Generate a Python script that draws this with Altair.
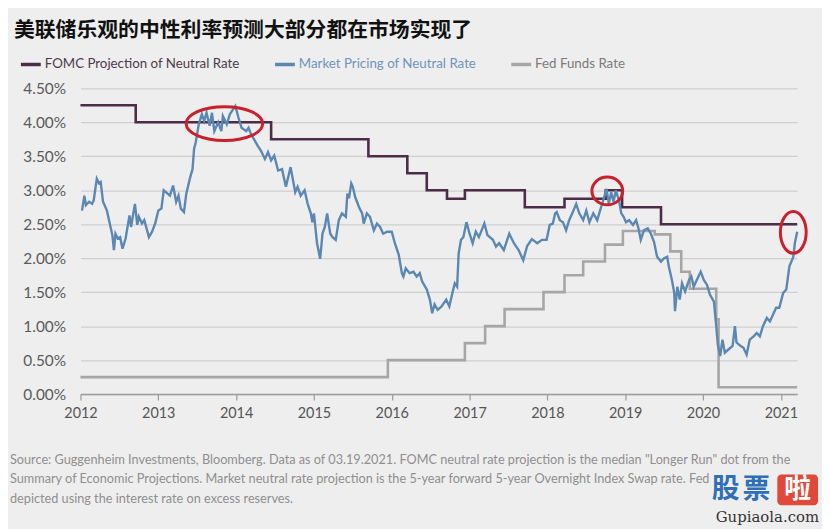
import altair as alt
import pandas as pd

TITLE = "美联储乐观的中性利率预测大部分都在市场实现了"
SERIES = ["FOMC Projection of Neutral Rate", "Market Pricing of Neutral Rate", "Fed Funds Rate"]
COLORS = ["#4d2c48", "#5b87b3", "#a6a6a6"]
LABEL_COLORS = ["#4d3a4c", "#6f94bb", "#7a7a7a"]
SOURCE = [
    "Source: Guggenheim Investments, Bloomberg. Data as of 03.19.2021. FOMC neutral rate projection is the median \"Longer Run\" dot from the",
    "Summary of Economic Projections. Market neutral rate projection is the 5-year forward 5-year Overnight Index Swap rate. Fed",
    "depicted using the interest rate on excess reserves.",
]
X_TICKS = [2012, 2013, 2014, 2015, 2016, 2017, 2018, 2019, 2020, 2021]
Y_TICKS = [0, 0.5, 1.0, 1.5, 2.0, 2.5, 3.0, 3.5, 4.0, 4.5]

fomc_year = [2012.00, 2012.71, 2014.45, 2015.70, 2016.20, 2016.45, 2016.71, 2016.94,
             2017.71, 2018.22, 2018.75, 2018.96, 2019.46, 2021.21]
fomc_value = [4.25, 4.00, 3.75, 3.50, 3.25, 3.00, 2.875, 3.00,
              2.75, 2.875, 3.00, 2.75, 2.50, 2.50]

fed_year = [2012.00, 2015.95, 2016.94, 2017.20, 2017.45, 2017.95, 2018.22, 2018.46, 2018.74,
            2018.97, 2019.38, 2019.58, 2019.72, 2019.83, 2020.17, 2020.20, 2021.21]
fed_value = [0.25, 0.50, 0.75, 1.00, 1.25, 1.50, 1.75, 1.95, 2.20,
             2.40, 2.35, 2.10, 1.80, 1.55, 1.10, 0.10, 0.10]

mkt_year = [
    2012.02, 2012.05, 2012.07, 2012.11, 2012.15, 2012.17, 2012.21, 2012.24, 2012.26, 2012.29,
    2012.34, 2012.39, 2012.41, 2012.43, 2012.45, 2012.48, 2012.51, 2012.54, 2012.58, 2012.63,
    2012.65, 2012.70, 2012.73, 2012.75, 2012.79, 2012.82, 2012.88, 2012.92, 2012.96, 2013.00,
    2013.04, 2013.07, 2013.12, 2013.15, 2013.19, 2013.23, 2013.26, 2013.29, 2013.33, 2013.36,
    2013.41, 2013.44, 2013.46, 2013.48, 2013.50, 2013.52, 2013.56, 2013.59, 2013.62, 2013.66,
    2013.69, 2013.72, 2013.77, 2013.81, 2013.83, 2013.88, 2013.92, 2013.99, 2014.03, 2014.07,
    2014.13, 2014.16, 2014.19, 2014.24, 2014.28, 2014.32, 2014.37, 2014.41, 2014.45, 2014.49,
    2014.54, 2014.59, 2014.64, 2014.70, 2014.76, 2014.79, 2014.83, 2014.88, 2014.92, 2014.96,
    2014.98, 2015.00, 2015.04, 2015.08, 2015.11, 2015.14, 2015.17, 2015.21, 2015.24, 2015.28,
    2015.32, 2015.36, 2015.41, 2015.43, 2015.45, 2015.48, 2015.50, 2015.53, 2015.58, 2015.62,
    2015.64, 2015.68, 2015.72, 2015.77, 2015.81, 2015.85, 2015.89, 2015.94, 2016.00, 2016.04,
    2016.09, 2016.13, 2016.15, 2016.18, 2016.23, 2016.28, 2016.32, 2016.36, 2016.39, 2016.45,
    2016.49, 2016.52, 2016.55, 2016.59, 2016.64, 2016.70, 2016.74, 2016.78, 2016.81, 2016.84,
    2016.86, 2016.89, 2016.92, 2016.96, 2017.00, 2017.04, 2017.08, 2017.12, 2017.19, 2017.23,
    2017.30, 2017.34, 2017.38, 2017.44, 2017.51, 2017.57, 2017.63, 2017.69, 2017.74, 2017.80,
    2017.87, 2017.93, 2017.99, 2018.03, 2018.07, 2018.10, 2018.12, 2018.16, 2018.20, 2018.24,
    2018.28, 2018.32, 2018.37, 2018.41, 2018.46, 2018.50, 2018.54, 2018.59, 2018.64, 2018.69,
    2018.73, 2018.76, 2018.79, 2018.82, 2018.85, 2018.88, 2018.92, 2018.95, 2018.98, 2019.01,
    2019.05, 2019.10, 2019.14, 2019.17, 2019.20, 2019.24, 2019.29, 2019.33, 2019.37, 2019.41,
    2019.46, 2019.50, 2019.54, 2019.56, 2019.60, 2019.63, 2019.64, 2019.67, 2019.70, 2019.73,
    2019.77, 2019.82, 2019.85, 2019.88, 2019.92, 2019.97, 2020.01, 2020.05, 2020.09, 2020.14,
    2020.17, 2020.19, 2020.22, 2020.25, 2020.28, 2020.33, 2020.38, 2020.41, 2020.43, 2020.48,
    2020.52, 2020.56, 2020.60, 2020.65, 2020.69, 2020.73, 2020.77, 2020.82, 2020.86, 2020.90,
    2020.94, 2020.98, 2021.03, 2021.07, 2021.11, 2021.16, 2021.18, 2021.21]
mkt_value = [
    2.70, 2.92, 2.78, 2.83, 2.80, 2.85, 3.17, 3.10, 3.12, 2.83,
    2.70, 2.44, 2.34, 2.12, 2.36, 2.29, 2.31, 2.14, 2.29, 2.63,
    2.46, 2.80, 2.49, 2.61, 2.51, 2.56, 2.31, 2.39, 2.51, 2.70,
    2.73, 3.00, 2.95, 2.92, 3.07, 2.83, 2.92, 2.73, 2.68, 2.95,
    3.19, 3.31, 3.61, 3.70, 3.83, 3.97, 4.12, 4.02, 4.14, 3.95,
    4.14, 3.87, 4.00, 3.87, 4.09, 3.97, 4.12, 4.24, 4.07, 3.92,
    3.87, 3.92, 3.83, 3.73, 3.65, 3.58, 3.46, 3.56, 3.44, 3.51,
    3.29, 3.31, 3.05, 3.34, 2.97, 3.05, 2.92, 3.00, 2.80, 2.66,
    2.53, 2.66, 2.22, 1.99, 2.36, 2.46, 2.66, 2.36, 2.31, 2.27,
    2.56, 2.66, 2.61, 2.95, 2.88, 3.10, 3.05, 2.90, 2.75, 2.66,
    2.51, 2.66, 2.61, 2.41, 2.51, 2.46, 2.36, 2.39, 2.39, 2.22,
    2.05, 1.78, 1.73, 1.85, 1.78, 1.80, 1.73, 1.78, 1.66, 1.54,
    1.39, 1.19, 1.32, 1.24, 1.29, 1.39, 1.29, 1.49, 1.63, 1.58,
    2.07, 2.27, 2.31, 2.53, 2.36, 2.22, 2.39, 2.31, 2.51, 2.34,
    2.27, 2.17, 2.22, 2.12, 2.36, 2.22, 2.12, 1.97, 2.18, 2.28,
    2.22, 2.27, 2.27, 2.49, 2.51, 2.66, 2.68, 2.56, 2.53, 2.41,
    2.56, 2.66, 2.80, 2.66, 2.56, 2.70, 2.53, 2.66, 2.56, 2.75,
    2.90, 3.02, 2.80, 2.97, 2.83, 3.00, 2.85, 2.66, 2.61, 2.53,
    2.56, 2.49, 2.56, 2.44, 2.27, 2.41, 2.44, 2.36, 2.24, 2.02,
    1.95, 2.00, 2.02, 1.88, 1.68, 1.49, 1.22, 1.58, 1.39, 1.63,
    1.51, 1.68, 1.73, 1.58, 1.68, 1.80, 1.68, 1.61, 1.46, 1.36,
    1.00, 0.73, 0.56, 0.80, 0.61, 0.66, 0.71, 1.00, 0.76, 0.71,
    0.68, 0.58, 0.80, 0.85, 0.90, 0.85, 1.00, 1.12, 1.07, 1.17,
    1.27, 1.27, 1.49, 1.54, 1.88, 2.02, 2.22, 2.39]

# highlighted regions (red ellipses): centre year, centre value
ell_year = [2013.85, 2018.77, 2021.16]
ell_value = [3.98, 2.99, 2.38]

step_df = pd.concat([
    pd.DataFrame({"year": fomc_year, "value": fomc_value, "series": SERIES[0]}),
    pd.DataFrame({"year": fed_year, "value": fed_value, "series": SERIES[2]}),
])
mkt_df = pd.DataFrame({"year": mkt_year, "value": mkt_value, "series": SERIES[1]})
ell_df = pd.DataFrame({"year": ell_year, "value": ell_value})

FONT = "Lato"
W, H = 722, 308

label_color_expr = (
    f"datum.value === '{SERIES[0]}' ? '{LABEL_COLORS[0]}' : "
    f"(datum.value === '{SERIES[1]}' ? '{LABEL_COLORS[1]}' : '{LABEL_COLORS[2]}')"
)

x_enc = alt.X("year:Q", scale=alt.Scale(domain=[2012, 2021.21], nice=False, zero=False),
              axis=alt.Axis(values=X_TICKS, format="d", grid=False, title=None,
                            domainColor="#9a9a9a", domainWidth=1.5, tickColor="#9a9a9a",
                            tickSize=6, tickWidth=1.2, labelFont=FONT, labelFontSize=14.5,
                            labelColor="#555555", labelPadding=7, labelFlush=False,
                            labelOverlap=False))
y_enc = alt.Y("value:Q", scale=alt.Scale(domain=[0, 4.5], nice=False),
              axis=alt.Axis(values=Y_TICKS, title=None, domain=False, ticks=False,
                            gridColor="#cfcfcf", gridWidth=1.2, labelFont=FONT,
                            labelFontSize=15.5, labelColor="#5a5a5a", labelPadding=15,
                            labelOverlap=False, labelBound=False, labelFlush=False,
                            labelExpr="format(datum.value, '.2f') + '%'"))
color_enc = alt.Color("series:N", scale=alt.Scale(domain=SERIES, range=COLORS),
                      legend=alt.Legend(
                          title=None, orient="none", legendX=-62, legendY=-36,
                          direction="horizontal", symbolType="stroke", symbolSize=400,
                          symbolStrokeWidth=3.5, labelFont=FONT, labelFontSize=13.4,
                          labelOffset=2, columnPadding=28, padding=0, labelLimit=400,
                          labelColor=alt.ExprRef(expr=label_color_expr)))

steps = alt.Chart(step_df).mark_line(interpolate="step-after", strokeWidth=2.6).encode(
    x=x_enc, y=y_enc, color=color_enc)
market = alt.Chart(mkt_df).mark_line(strokeWidth=2.4).encode(x=x_enc, y=y_enc, color=color_enc)


def ellipse(rx, ry):
    k = 0.5523
    return (f"M {rx} 0 C {rx} {ry*k:.4f} {rx*k:.4f} {ry} 0 {ry} "
            f"C {-rx*k:.4f} {ry} {-rx} {ry*k:.4f} {-rx} 0 "
            f"C {-rx} {-ry*k:.4f} {-rx*k:.4f} {-ry} 0 {-ry} "
            f"C {rx*k:.4f} {-ry} {rx} {-ry*k:.4f} {rx} 0 Z")


ell_specs = [(1, 34 / 77, 77), (1, 28 / 31, 31), (26 / 42, 1, 42)]
ell_layers = []
for i, (rx, ry, size) in enumerate(ell_specs):
    ell_layers.append(
        alt.Chart(ell_df.iloc[[i]]).mark_point(
            shape=ellipse(rx, ry), size=size * size, filled=False,
            stroke="#c9202c", strokeWidth=3, opacity=1
        ).encode(x=x_enc, y=y_enc)
    )


def text_layer(txt, x, y, **kw):
    return alt.Chart(pd.DataFrame({"t": [txt]})).mark_text(**kw).encode(
        text="t:N", x=alt.value(x), y=alt.value(y))


title = text_layer(TITLE, -67, -52, align="left", baseline="alphabetic",
                   font="Noto Sans CJK SC", fontWeight="bold", fontSize=21, color="#111111")

source = alt.Chart(pd.DataFrame({"t": [0]})).mark_text(
    align="left", baseline="middle", font=FONT, fontSize=12.8, color="#8f8f8f",
    lineHeight=20).encode(text=alt.value(SOURCE), x=alt.value(-71), y=alt.value(374))

wm_gu = text_layer("股", 650, 405, align="center", baseline="middle", font="Noto Sans CJK SC",
                   fontWeight="bold", fontSize=28, color="#2f6fb8")
wm_piao = text_layer("票", 681, 405, align="center", baseline="middle", font="Noto Sans CJK SC",
                     fontWeight="bold", fontSize=28, color="#2f6fb8")
wm_red_box = alt.Chart(pd.DataFrame({"t": [0]})).mark_rect(
    color="#e0483b", cornerRadius=4).encode(
    x=alt.value(702), x2=alt.value(743), y=alt.value(389), y2=alt.value(420))
wm_la = text_layer("啦", 722.5, 405, align="center", baseline="middle", font="Noto Sans CJK SC",
                   fontWeight="bold", fontSize=27, color="#ffffff")
wm_url = text_layer("Gupiaola.com", 744, 432, align="right", baseline="middle",
                    font="DejaVu Serif", fontSize=15, color="#333333")

chart = alt.layer(
    steps, market, *ell_layers, title, source, wm_gu, wm_piao, wm_red_box, wm_la, wm_url
).properties(
    width=W, height=H,
    padding={"left": 73, "top": 79, "right": 25, "bottom": 134},
    autosize=alt.AutoSizeParams(type="none"),
    background="#eeeeee",
).configure_view(stroke=None)

chart.save("out.html", embed_options={"renderer": "svg", "actions": False})
